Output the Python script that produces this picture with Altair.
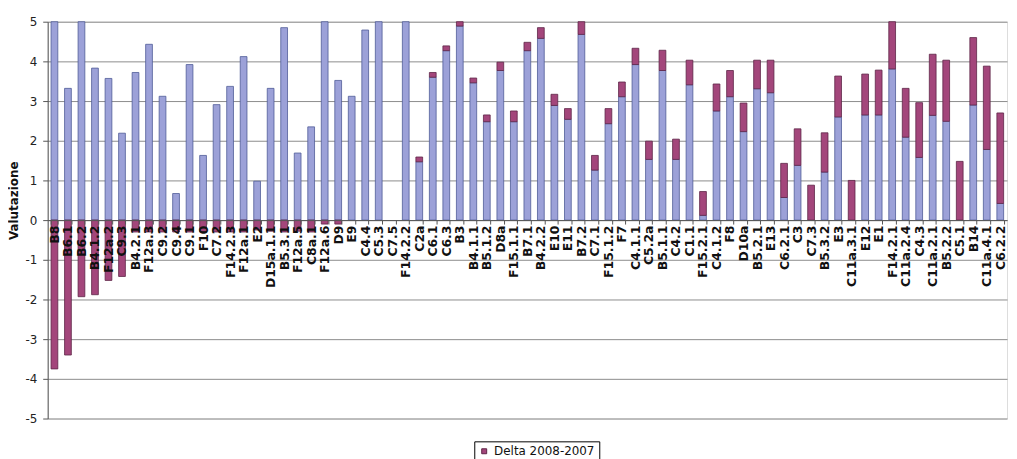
import altair as alt
import pandas as pd

categories = [
    "B8", "B6.1", "B6.2", "B4.1.2", "F12a.2", "C9.3", "B4.2.1", "F12a.3", "C9.2", "C9.4",
    "C9.1", "F10", "C7.2", "F14.2.3", "F12a.1", "E2", "D15a.1.1", "B5.3.1", "F12a.5", "C8a.1",
    "F12a.6", "D9", "E9", "C4.4", "C5.3", "C7.5", "F14.2.2", "C2a", "C6.1", "C6.3",
    "B3", "B4.1.1", "B5.1.2", "D8a", "F15.1.1", "B7.1", "B4.2.2", "E10", "E11", "B7.2",
    "C7.1", "F15.1.2", "F7", "C4.1.1", "C5.2a", "B5.1.1", "C4.2", "C1.1", "F15.2.1", "C4.1.2",
    "F8", "D10a", "B5.2.1", "E13", "C6.2.1", "C3", "C7.3", "B5.3.2", "E3", "C11a.3.1",
    "E12", "E1", "F14.2.1", "C11a.2.4", "C4.3", "C11a.2.1", "B5.2.2", "C5.1", "B14", "C11a.4.1",
    "C6.2.2",
]

base_2007 = [
    5.0, 3.32, 5.0, 3.83, 3.57, 2.19, 3.72, 4.43, 3.12, 0.67,
    3.92, 1.63, 2.91, 3.37, 4.12, 0.98, 3.32, 4.85, 1.69, 2.35,
    5.0, 3.52, 3.12, 4.79, 5.0, 0.0, 5.0, 1.47, 3.6, 4.27,
    4.89, 3.46, 2.48, 3.77, 2.48, 4.27, 4.58, 2.89, 2.54, 4.68,
    1.26, 2.43, 3.11, 3.92, 1.53, 3.77, 1.53, 3.41, 0.12, 2.75,
    3.11, 2.23, 3.31, 3.21, 0.57, 1.38, 0.0, 1.21, 2.6, 0.0,
    2.65, 2.65, 3.81, 2.09, 1.58, 2.64, 2.49, 0.0, 2.9, 1.78,
    0.42,
]

delta_2008_2007 = [
    -3.75, -3.4, -1.93, -1.88, -1.52, -1.42, -0.3, -0.3, -0.3, -0.3,
    -0.3, -0.3, -0.3, -0.3, -0.3, -0.25, -0.28, -0.3, -0.28, -0.3,
    -0.1, -0.1, 0.0, 0.0, 0.0, 0.0, 0.0, 0.12, 0.12, 0.12,
    0.11, 0.12, 0.17, 0.21, 0.27, 0.21, 0.27, 0.28, 0.27, 0.32,
    0.37, 0.38, 0.37, 0.41, 0.46, 0.51, 0.51, 0.62, 0.6, 0.68,
    0.66, 0.72, 0.72, 0.82, 0.86, 0.92, 0.88, 0.99, 1.03, 1.0,
    1.03, 1.13, 1.19, 1.23, 1.38, 1.54, 1.54, 1.48, 1.7, 2.1,
    2.28,
]

series_names = ["Delta 2008-2007", "2007"]
fill_colors = ["#a3467b", "#9ca1d8"]
stroke_colors = ["#5e2447", "#4f5c98"]

rows = []
for c, b, d in zip(categories, base_2007, delta_2008_2007):
    rows.append({"cat": c, "series": series_names[1], "value": b, "ord": 0})
    rows.append({"cat": c, "series": series_names[0], "value": d, "ord": 1})
df = pd.DataFrame(rows)

chart = alt.Chart(df).mark_bar(strokeWidth=0.8).encode(
    x=alt.X(
        "cat:N",
        sort=categories,
        scale=alt.Scale(domain=categories, paddingInner=0.5, paddingOuter=0.25),
        axis=alt.Axis(
            title=None,
            labelAngle=-90,
            offset=-200,
            tickBand="extent",
            tickSize=4,
            tickColor="#555555",
            domainColor="#555555",
            labelPadding=1,
            labelFont="DejaVu Sans",
            labelFontWeight="bold",
            labelFontSize=12.5,
            labelColor="#111111",
            labelOverlap=False,
            zindex=1,
        ),
    ),
    y=alt.Y(
        "value:Q",
        stack="zero",
        scale=alt.Scale(domain=[-5, 5], nice=False),
        axis=alt.Axis(
            title="Valutazione",
            values=list(range(-5, 6)),
            labelExpr="'' + datum.value",
            grid=True,
            gridColor="#8c8c8c",
            domainColor="#555555",
            tickColor="#555555",
            tickSize=5,
            labelPadding=6,
            labelFont="DejaVu Sans",
            labelFontSize=12,
            labelColor="#222222",
            titleFont="DejaVu Sans",
            titleFontWeight="bold",
            titleFontSize=12,
            titleColor="#111111",
            titleAngle=-90,
            titleX=-34,
            titleY=180,
            titleAlign="center",
            titleBaseline="middle",
        ),
    ),
    color=alt.Color(
        "series:N",
        scale=alt.Scale(domain=series_names, range=fill_colors),
        legend=alt.Legend(
            title=None,
            orient="none",
            legendX=430,
            legendY=423,
            direction="vertical",
            values=[series_names[0]],
            strokeColor="#000000",
            padding=4,
            labelFont="DejaVu Sans",
            labelFontSize=12,
            labelColor="#111111",
            symbolType="square",
            symbolSize=25,
            symbolStrokeColor="#000000",
            symbolStrokeWidth=1,
        ),
    ),
    stroke=alt.Stroke(
        "series:N",
        scale=alt.Scale(domain=series_names, range=stroke_colors),
        legend=None,
    ),
    order=alt.Order("ord:Q"),
).transform_filter(
    "datum.value != 0"
).properties(
    width=967,
    height=400,
    autosize=alt.AutoSizeParams(type="none"),
    padding={"left": 40, "top": 12, "right": 2, "bottom": 39},
).configure_view(strokeWidth=0).configure(background="white")

chart.save("out.html", embed_options={"renderer": "svg", "actions": False})
